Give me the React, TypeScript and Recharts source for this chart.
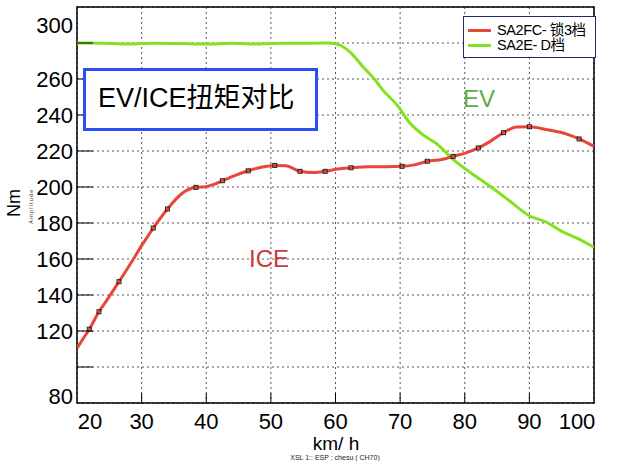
import React from "react";
import {
  ComposedChart,
  Line,
  Scatter,
  XAxis,
  YAxis,
  CartesianGrid,
  ReferenceArea,
} from "recharts";

// ICE curve (SA2FC 锁3档)
const iceSpeed = [
  20, 21, 21.9, 23.4, 24.5, 26.5, 28.3, 30, 31.8, 34, 36.1, 38.4, 40, 41.2, 42.5,
  44.5, 46.5, 48.5, 50.6, 52.3, 54.5, 56.6, 58.4, 60.3, 62.4, 65, 68, 70.3, 72.2,
  74.2, 76, 78.2, 80.2, 82.1, 84, 86, 88, 90, 92.8, 95.8, 97.7, 100,
];
const iceTorque = [
  110.5, 116, 121, 130.7, 136.5, 147.4, 157.5, 167.4, 177.2, 187.8, 196, 199.8,
  200.2, 201.5, 203.5, 206.5, 209, 211, 212, 211.8, 208.7, 208, 208.7, 210, 210.7,
  211.3, 211.3, 211.5, 212.3, 214.3, 215, 217, 219, 221.7, 225.5, 230.2, 233.3,
  233.5, 231.8, 229.4, 226.7, 222.5,
];
const iceMarkerSpeed = [
  21.9, 23.4, 26.5, 31.8, 34, 38.4, 42.5, 46.5, 50.6, 54.5, 58.4, 62.4, 70.3, 74.2,
  78.2, 82.1, 86, 90, 97.7,
];
const iceMarkerTorque = [
  121, 130.7, 147.4, 177.2, 187.8, 199.8, 203.5, 209, 212, 208.7, 208.7, 210.7,
  211.5, 214.3, 217, 221.7, 230.2, 233.5, 226.7,
];

// EV curve (SA2E D档)
const evSpeed = [
  20, 24, 28, 32, 36, 40, 44, 48, 52, 56, 59, 60.5, 62.3, 64.1, 66.4, 67.2, 69.6,
  71.4, 73.4, 76, 78.1, 81.2, 83.8, 86.9, 90, 92.5, 95.1, 97.7, 100,
];
const evTorque = [
  280, 279.8, 279.5, 279.9, 279.7, 279.4, 279.8, 279.5, 279.8, 279.9, 280, 279.1,
  274.8, 267.4, 258.2, 254.4, 245.2, 236, 229.4, 223, 215.6, 207.2, 200.7, 192.4,
  184, 180.7, 175.2, 171, 166.5,
];

const xTicks = [20, 30, 40, 50, 60, 70, 80, 90, 100];
const yTicks = [80, 100, 120, 140, 160, 180, 200, 220, 240, 260, 280, 300];
const yTickLabels = ["80", "", "120", "140", "160", "180", "200", "220", "240", "260", "", "300"];

const iceData = iceSpeed.map((s, i) => ({ speed: s, torque: iceTorque[i] }));
const iceMarkers = iceMarkerSpeed.map((s, i) => ({ speed: s, torque: iceMarkerTorque[i] }));
const evData = evSpeed.map((s, i) => ({ speed: s, torque: evTorque[i] }));

const FONT = '"Liberation Sans", Arial, "Noto Sans CJK SC", sans-serif';
const RED = "#e8453b";
const GREEN = "#82e21f";
const PLOT_LEFT = 77;
const PLOT_BOTTOM = 403;

const YTick = (props: any) => {
  const { y, payload } = props;
  const label = yTickLabels[yTicks.indexOf(payload.value)] ?? "";
  let dy = 0;
  if (payload.value === 300) dy = 16;
  if (payload.value === 80) dy = -7;
  return (
    <g>
      {payload.value !== 80 && payload.value !== 300 && (
        <line x1={PLOT_LEFT} x2={PLOT_LEFT + 16} y1={y} y2={y} stroke="#000" strokeWidth={1} />
      )}
      <text
        x={73}
        y={y + dy}
        textAnchor="end"
        dominantBaseline="central"
        fontSize={22}
        fontFamily={FONT}
        fill="#000"
      >
        {label}
      </text>
    </g>
  );
};

const XTick = (props: any) => {
  const { x, payload } = props;
  let dx = 0;
  if (payload.value === 20) dx = 13;
  if (payload.value === 100) dx = -17;
  return (
    <g>
      {payload.value !== 20 && payload.value !== 100 && (
        <line x1={x} x2={x} y1={PLOT_BOTTOM} y2={PLOT_BOTTOM - 10} stroke="#000" strokeWidth={1} />
      )}
      <text
        x={x + dx}
        y={421}
        textAnchor="middle"
        dominantBaseline="central"
        fontSize={22}
        fontFamily={FONT}
        fill="#000"
      >
        {payload.value}
      </text>
    </g>
  );
};

const MarkerShape = (props: any) => {
  const { cx, cy } = props;
  return <rect x={cx - 2} y={cy - 2} width={4} height={4} fill="none" stroke="#222" strokeWidth={1} />;
};

export default function App() {
  return (
    <div style={{ position: "absolute", left: 0, top: 0, width: 621, height: 461, background: "#fff", fontFamily: FONT }}>
      <ComposedChart
        width={621}
        height={461}
        margin={{ top: 7, right: 27, bottom: 28, left: 17 }}
      >
        <CartesianGrid stroke="#555" strokeDasharray="2 3" />
        <XAxis
          dataKey="speed"
          type="number"
          domain={[20, 100]}
          ticks={xTicks}
          height={30}
          axisLine={false}
          tickLine={false}
          tick={<XTick />}
          allowDataOverflow
        />
        <YAxis
          type="number"
          domain={[80, 300]}
          ticks={yTicks}
          width={60}
          axisLine={false}
          tickLine={false}
          tick={<YTick />}
          allowDataOverflow
        />
        <ReferenceArea x1={20} x2={100} y1={80} y2={300} fill="none" stroke="#000" strokeWidth={1.5} />
        <Line
          data={evData}
          dataKey="torque"
          type="monotone"
          stroke={GREEN}
          strokeWidth={3}
          dot={false}
          isAnimationActive={false}
        />
        <Line
          data={iceData}
          dataKey="torque"
          type="monotone"
          stroke={RED}
          strokeWidth={3}
          dot={false}
          isAnimationActive={false}
        />
        <Scatter data={iceMarkers} dataKey="torque" shape={<MarkerShape />} isAnimationActive={false} />
      </ComposedChart>

      {/* title box */}
      <div
        style={{
          position: "absolute",
          left: 83,
          top: 68,
          width: 229,
          height: 57,
          border: "3px solid #2850f0",
          background: "#fff",
        }}
      >
        <div style={{ position: "absolute", left: 12, top: 11, fontSize: 27, color: "#000", whiteSpace: "nowrap", lineHeight: "32px" }}>
          EV/ICE扭矩对比
        </div>
      </div>

      {/* legend */}
      <div
        style={{
          position: "absolute",
          left: 463,
          top: 16,
          width: 131,
          height: 40,
          border: "1.5px solid #26266e",
          background: "#fff",
          fontSize: 14.5,
          letterSpacing: -0.4,
          color: "#000",
        }}
      >
        <div style={{ position: "absolute", left: 4, top: 12, width: 23, height: 3, background: RED }} />
        <div style={{ position: "absolute", left: 33, top: 4, lineHeight: "18px", whiteSpace: "nowrap" }}>SA2FC- 锁3档</div>
        <div style={{ position: "absolute", left: 4, top: 27, width: 23, height: 3, background: GREEN }} />
        <div style={{ position: "absolute", left: 33, top: 19, lineHeight: "18px", whiteSpace: "nowrap" }}>SA2E- D档</div>
      </div>

      {/* curve annotations */}
      <div style={{ position: "absolute", left: 463, top: 85, fontSize: 24, color: "#5bae4a", lineHeight: "28px" }}>EV</div>
      <div style={{ position: "absolute", left: 249, top: 245, fontSize: 24, color: "#c93a3a", lineHeight: "28px" }}>ICE</div>

      {/* axis labels */}
      <div
        style={{
          position: "absolute",
          left: 14,
          top: 203,
          transform: "translate(-50%, -50%) rotate(-90deg)",
          fontSize: 18,
          color: "#000",
          whiteSpace: "nowrap",
        }}
      >
        Nm
      </div>
      <div
        style={{
          position: "absolute",
          left: 31,
          top: 206,
          transform: "translate(-50%, -50%) rotate(-90deg)",
          fontSize: 5.5,
          letterSpacing: 1.2,
          color: "#333",
          whiteSpace: "nowrap",
        }}
      >
        Amplitude
      </div>
      <div
        style={{
          position: "absolute",
          left: 336,
          top: 444,
          transform: "translate(-50%, -50%)",
          fontSize: 19,
          color: "#000",
          whiteSpace: "nowrap",
          lineHeight: "16px",
        }}
      >
        km/ h
      </div>
      <div
        style={{
          position: "absolute",
          left: 335,
          top: 454,
          transform: "translateX(-50%)",
          fontSize: 7,
          color: "#222",
          whiteSpace: "nowrap",
          lineHeight: "7px",
        }}
      >
        XSL 1:: ESP : chesu ( CH70)
      </div>
    </div>
  );
}
